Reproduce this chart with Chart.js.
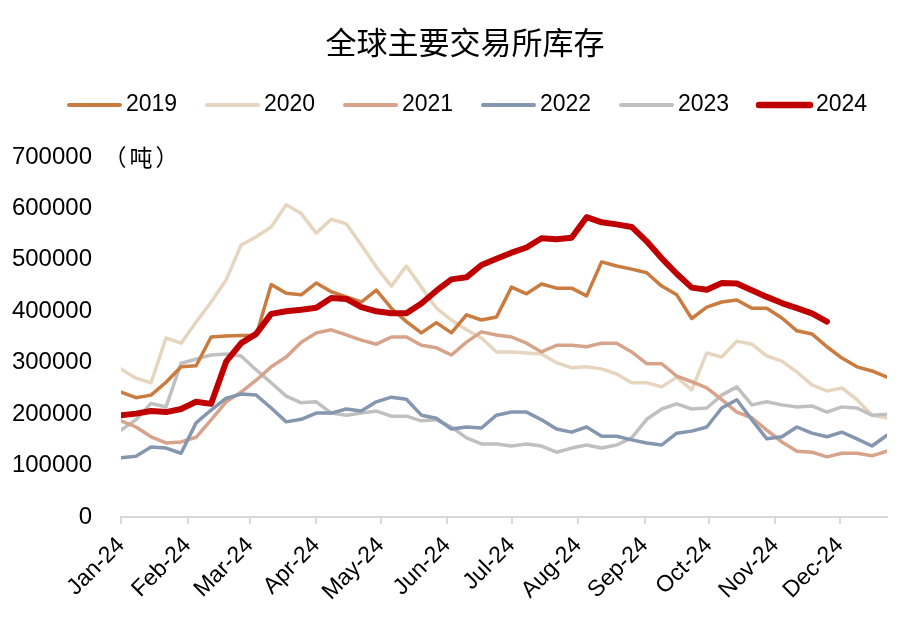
<!DOCTYPE html>
<html>
<head>
<meta charset="utf-8">
<script src="https://cdn.jsdelivr.net/npm/chart.js@4.4.1/dist/chart.umd.min.js"></script>
<style>
html,body{margin:0;padding:0;background:#fff;}
#wrap{width:914px;height:619px;}
</style>
</head>
<body>
<div id="wrap"><canvas id="c" width="914" height="619"></canvas></div>
<script>
// ---- data ----
const chartTitle = '全球主要交易所库存';
const unitLabel = '（吨）';
const weekDays = [0,7,14,21,28,35,42,49,56,63,70,77,84,91,98,105,112,119,126,133,140,147,154,161,168,175,182,189,196,203,210,217,224,231,238,245,252,259,266,273,280,287,294,301,308,315,322,329,336,343,350,357];
const monthTickDays = [0,31,60,91,121,152,182,213,244,274,305,335];
const monthLabels = ['Jan-24','Feb-24','Mar-24','Apr-24','May-24','Jun-24','Jul-24','Aug-24','Sep-24','Oct-24','Nov-24','Dec-24'];
const yMax = 700000;
const yStep = 100000;

const seriesNames = ['2019','2020','2021','2022','2023','2024'];

const v2019 = [243000,232000,237000,262000,292000,294000,350000,352000,353000,353000,452000,435000,432000,455000,438000,428000,418000,441000,406000,380000,358000,378000,358000,393000,383000,389000,447000,434000,453000,445000,445000,430000,496000,488000,482000,475000,449000,432000,386000,408000,418000,422000,406000,406000,387000,362000,356000,331000,309000,292000,284000,272000];
const v2020 = [288000,270000,261000,348000,338000,379000,418000,461000,529000,545000,564000,607000,590000,552000,579000,570000,529000,486000,449000,488000,447000,406000,383000,364000,348000,321000,321000,319000,317000,300000,290000,292000,288000,278000,261000,261000,253000,272000,247000,319000,311000,342000,336000,313000,303000,282000,257000,245000,251000,228000,198000,193000];
const v2021 = [187000,175000,156000,144000,146000,155000,189000,224000,243000,266000,292000,311000,340000,358000,364000,354000,344000,336000,350000,350000,334000,329000,315000,340000,360000,354000,350000,338000,321000,334000,334000,331000,338000,338000,321000,298000,298000,274000,263000,251000,228000,204000,193000,169000,146000,128000,126000,117000,124000,124000,119000,128000];
const v2022 = [115000,118000,136000,134000,124000,183000,208000,231000,239000,237000,212000,185000,190000,202000,202000,210000,206000,224000,233000,229000,198000,192000,171000,175000,173000,198000,204000,204000,189000,171000,165000,175000,157000,157000,150000,144000,140000,163000,167000,175000,212000,228000,189000,152000,156000,175000,163000,156000,165000,152000,138000,159000];
const v2023 = [169000,189000,221000,214000,299000,307000,315000,317000,313000,286000,261000,235000,222000,224000,202000,198000,202000,206000,196000,196000,187000,189000,175000,154000,142000,142000,138000,142000,138000,126000,134000,140000,134000,140000,154000,190000,210000,220000,210000,212000,237000,253000,218000,224000,218000,214000,216000,204000,214000,212000,198000,200000];
const v2024 = [198000,201000,206000,204000,210000,224000,220000,302000,338000,356000,395000,400000,403000,407000,426000,424000,408000,400000,396000,396000,415000,440000,462000,466000,490000,502000,514000,524000,542000,540000,543000,583000,573000,569000,564000,536000,503000,473000,446000,442000,455000,454000,441000,428000,416000,406000,396000,380000];

// ---- styles ----
const colors = ['#C97B40','#E7D6BF','#D7A38A','#8496B0','#C0C0C0','#C00000'];
const widths = [3.5,3.5,3.5,3.5,3.5,6];
const orders = [1,5,3,2,4,0];
const NUM_FONT = '"Liberation Sans", Arial, sans-serif';
const CJK_FONT = '"Noto Sans CJK SC", "Noto Sans", sans-serif';

const allValues = [v2019,v2020,v2021,v2022,v2023,v2024];
const datasets = seriesNames.map((name, k) => ({
  label: name,
  data: allValues[k].map((v, i) => ({x: weekDays[i], y: v})),
  borderColor: colors[k],
  backgroundColor: colors[k],
  borderWidth: widths[k],
  pointRadius: 0,
  tension: 0,
  fill: false,
  order: orders[k],
  borderJoinStyle: 'round',
  borderCapStyle: 'round'
}));

const overlay = {
  id: 'overlay',
  afterDraw(chart) {
    const ctx = chart.ctx;
    ctx.save();
    // title
    ctx.fillStyle = '#000';
    ctx.font = '31px ' + CJK_FONT;
    ctx.textAlign = 'center';
    ctx.textBaseline = 'middle';
    ctx.fillText(chartTitle, 465, 42);
    // legend
    const startX = 67, stride = 138, lineLen = 55, ly = 105;
    chart.data.datasets.forEach((ds, k) => {
      const x0 = startX + k * stride;
      ctx.strokeStyle = ds.borderColor;
      ctx.lineWidth = ds.borderWidth + 0.5;
      ctx.lineCap = 'round';
      ctx.beginPath();
      ctx.moveTo(x0 + 2, ly);
      ctx.lineTo(x0 + lineLen - 2, ly);
      ctx.stroke();
      ctx.fillStyle = '#000';
      ctx.font = '23px ' + NUM_FONT;
      ctx.textAlign = 'left';
      ctx.textBaseline = 'middle';
      ctx.fillText(ds.label, x0 + lineLen + 4, ly);
    });
    // unit (drawn with a little extra spacing between glyphs)
    ctx.font = '23px ' + CJK_FONT;
    ctx.textAlign = 'center';
    ctx.textBaseline = 'middle';
    const uy = chart.scales.y.getPixelForValue(yMax);
    const chars = Array.from(unitLabel);
    const spacing = 26;
    const cx = 141;
    chars.forEach((ch, i) => {
      ctx.fillText(ch, cx + (i - (chars.length - 1) / 2) * spacing, uy);
    });
    ctx.restore();
  }
};

new Chart(document.getElementById('c'), {
  type: 'line',
  data: { datasets },
  options: {
    responsive: false,
    animation: false,
    devicePixelRatio: 1,
    layout: { padding: { top: 157, right: 27, left: 0, bottom: 0 } },
    plugins: { legend: { display: false }, title: { display: false }, tooltip: { enabled: false } },
    scales: {
      x: {
        type: 'linear',
        min: weekDays[0],
        max: weekDays[weekDays.length - 1],
        afterBuildTicks(scale) { scale.ticks = monthTickDays.map(v => ({ value: v })); },
        afterFit(scale) { scale.height = 102; },
        ticks: {
          autoSkip: false,
          maxRotation: 45,
          minRotation: 45,
          padding: 8,
          color: '#000',
          font: { family: NUM_FONT, size: 23 },
          callback(value) { const i = monthTickDays.indexOf(value); return i >= 0 ? monthLabels[i] : ''; }
        },
        grid: { display: true, drawOnChartArea: false, drawTicks: true, tickLength: 7, color: '#D9D9D9', lineWidth: 2 },
        border: { display: true, color: '#D9D9D9', width: 2 }
      },
      y: {
        min: 0,
        max: yMax,
        afterFit(scale) { scale.width = 121; },
        ticks: {
          stepSize: yStep,
          padding: 29,
          color: '#000',
          font: { family: NUM_FONT, size: 24 },
          callback(value) { return String(value); }
        },
        grid: { display: false, drawTicks: false },
        border: { display: false }
      }
    }
  },
  plugins: [overlay]
});
</script>
</body>
</html>
